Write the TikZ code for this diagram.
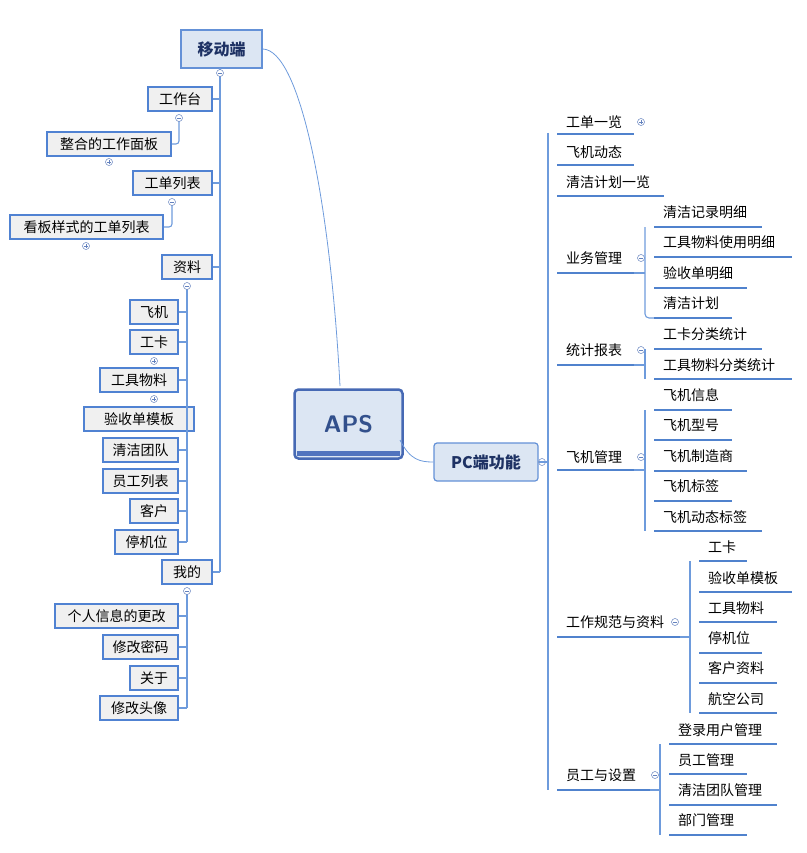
\documentclass[tikz,border=0pt]{standalone}
\usepackage{fontspec}
\setmainfont{Noto Sans CJK SC}
\definecolor{spc}{RGB}{110,155,220}
\definecolor{ulc}{RGB}{80,130,205}
\definecolor{gbd}{RGB}{80,130,210}
\definecolor{gbf}{RGB}{240,240,240}
\definecolor{tgc}{RGB}{100,130,190}
\definecolor{apsd}{RGB}{70,105,180}
\definecolor{lfill}{RGB}{220,230,243}
\definecolor{apst}{RGB}{50,80,140}
\definecolor{barc}{RGB}{80,115,190}
\definecolor{pcd}{RGB}{100,145,215}
\definecolor{pct}{RGB}{30,50,100}
\begin{document}
\begin{tikzpicture}[x=1pt,y=-1pt,
  spine/.style={draw=spc, line width=1.1pt},
  uline/.style={line width=2pt, draw=ulc},
  gbox/.style={draw=gbd, line width=1.8pt, fill=gbf, font=\fontsize{14}{16}\selectfont, inner sep=0pt, minimum height=24},
  lbl/.style={anchor=west, font=\fontsize{14}{16}\selectfont, inner sep=0pt},
  tog/.style={circle, draw=tgc, fill=white, line width=0.5pt, minimum size=7pt, inner sep=0pt},
  mtog/.style={tog, path picture={\draw[line width=0.5pt] ([xshift=-2pt]path picture bounding box.center) -- ([xshift=2pt]path picture bounding box.center);}},
  ptog/.style={tog, path picture={\draw[line width=0.5pt] ([xshift=-2pt]path picture bounding box.center) -- ([xshift=2pt]path picture bounding box.center) ([yshift=-2pt]path picture bounding box.center) -- ([yshift=2pt]path picture bounding box.center);}}]
\useasboundingbox (0,0) rectangle (806,853);
% ---------- central
\node[draw=apsd, line width=2.5pt, rounded corners=4pt, fill=lfill, minimum width=108, minimum height=69, inner sep=0pt, font=\sffamily\bfseries\fontsize{24}{28}\selectfont, text=apst] (aps) at (348.5,424) {APS};
\fill[barc] (297,451) rectangle (400,456);
\node[draw=pcd, line width=1.2pt, rounded corners=3pt, fill=lfill, minimum width=104, minimum height=38, inner sep=0pt, font=\bfseries\fontsize{16}{18}\selectfont, text=pct] (pc) at (486,462) {PC端功能};
\node[draw=pcd, line width=1.5pt, fill=lfill, minimum width=81, minimum height=38, inner sep=0pt, font=\bfseries\fontsize{16}{18}\selectfont, text=pct] (mob) at (221.5,49) {移动端};
\draw[spine, line width=0.8pt] (mob.east) .. controls (300,50) and (330,200) .. (340,386);
\draw[spine, line width=0.8pt] (400,440) .. controls (410,460) and (420,462) .. (pc.west);
% ---------- left side
\coordinate (ls) at (220,0);
\coordinate (rs) at (187,0);
\draw[spine] (220,68) -- (220,572);
\foreach \n/\t/\xa/\xb/\y in {gzt/工作台/148/212/99, gzmb/整合的工作面板/47/171/144, gdlb/工单列表/133/212/183, kb/看板样式的工单列表/10/163/227, zl/资料/162/212/267, fj/飞机/130/178/312, gk/工卡/130/178/342, gjwl/工具物料/100/178/380, ysd/验收单模板/84/194/419, qjtd/清洁团队/103/178/450, yglb/员工列表/103/178/481, kh/客户/130/178/511, tjw/停机位/115/178/542, wd/我的/162/212/572, grxx/个人信息的更改/55/178/616, xgmm/修改密码/103/178/647, gy/关于/130/178/678, xgtx/修改头像/100/178/708}
  \node[gbox, minimum width={\xb-\xa}] (\n) at ({(\xa+\xb)/2},\y) {\t};
\foreach \n in {gzt,gdlb,zl,wd} \draw[spine] (\n.east) -- (\n.east -| ls);
\draw[spine] (187,285) -- (187,542);
\draw[spine] (187,591) -- (187,708);
\foreach \n in {fj,gk,gjwl,qjtd,yglb,kh,tjw,grxx,xgmm,gy,xgtx} \draw[spine] (\n.east) -- (\n.east -| rs);
\draw[spine, rounded corners=3pt] (179,118) |- (gzmb.east);
\draw[spine, rounded corners=3pt] (172,202) |- (kb.east);
\foreach \x/\y in {220/73,179/118,172/202,187/286,187/591,542/462,641/258,641/350,641/457,675/622,655/775} \node[mtog] at (\x,\y) {};
\foreach \x/\y in {109/162,86/246,154/361,154/399,641/122} \node[ptog] at (\x,\y) {};
% ---------- right side
\draw[spine] (548,133) -- (548,790);
\draw[spine] (pc.east) -- (548,462);
\newcommand\ritem[6]{\node[lbl] (#1) at (#3,#4) {#2}; \draw[uline] (#3-9,#5) -- (#6,#5);}
\ritem{r1}{工单一览}{566}{122}{134}{634}
\ritem{r2}{飞机动态}{566}{152}{165}{634}
\ritem{r3}{清洁计划一览}{566}{182}{196}{664}
\ritem{r4}{业务管理}{566}{258}{273}{634}
\ritem{r5}{统计报表}{566}{350}{365}{634}
\ritem{r6}{飞机管理}{566}{457}{470}{634}
\ritem{r7}{工作规范与资料}{566}{622}{637}{680}
\ritem{r8}{员工与设置}{566}{775}{790}{650}
\draw[spine, rounded corners=4pt] (645,227) -- (645,318) -- (655,318);
\draw[spine] (634,273) -- (645,273);
\ritem{a1}{清洁记录明细}{663}{212}{227}{762}
\ritem{a2}{工具物料使用明细}{663}{242}{257}{792}
\ritem{a3}{验收单明细}{663}{273}{288}{747}
\ritem{a4}{清洁计划}{663}{303}{318}{732}
\draw[spine] (645,349) -- (645,379) (634,365) -- (645,365);
\ritem{b1}{工卡分类统计}{663}{334}{349}{762}
\ritem{b2}{工具物料分类统计}{663}{365}{379}{792}
\draw[spine] (645,410) -- (645,531) (634,470) -- (645,470);
\ritem{c1}{飞机信息}{663}{395}{410}{732}
\ritem{c2}{飞机型号}{663}{425}{440}{732}
\ritem{c3}{飞机制造商}{663}{456}{471}{747}
\ritem{c4}{飞机标签}{663}{486}{501}{732}
\ritem{c5}{飞机动态标签}{663}{517}{531}{762}
\draw[spine] (690,561) -- (690,713) (680,637) -- (690,637);
\ritem{d1}{工卡}{708}{547}{561}{747}
\ritem{d2}{验收单模板}{708}{578}{592}{792}
\ritem{d3}{工具物料}{708}{608}{622}{777}
\ritem{d4}{停机位}{708}{638}{653}{762}
\ritem{d5}{客户资料}{708}{668}{683}{777}
\ritem{d6}{航空公司}{708}{699}{713}{777}
\draw[spine] (660,744) -- (660,835) (650,790) -- (660,790);
\ritem{e1}{登录用户管理}{678}{730}{744}{777}
\ritem{e2}{员工管理}{678}{760}{774}{747}
\ritem{e3}{清洁团队管理}{678}{790}{805}{777}
\ritem{e4}{部门管理}{678}{820}{835}{747}
\end{tikzpicture}
\end{document}
